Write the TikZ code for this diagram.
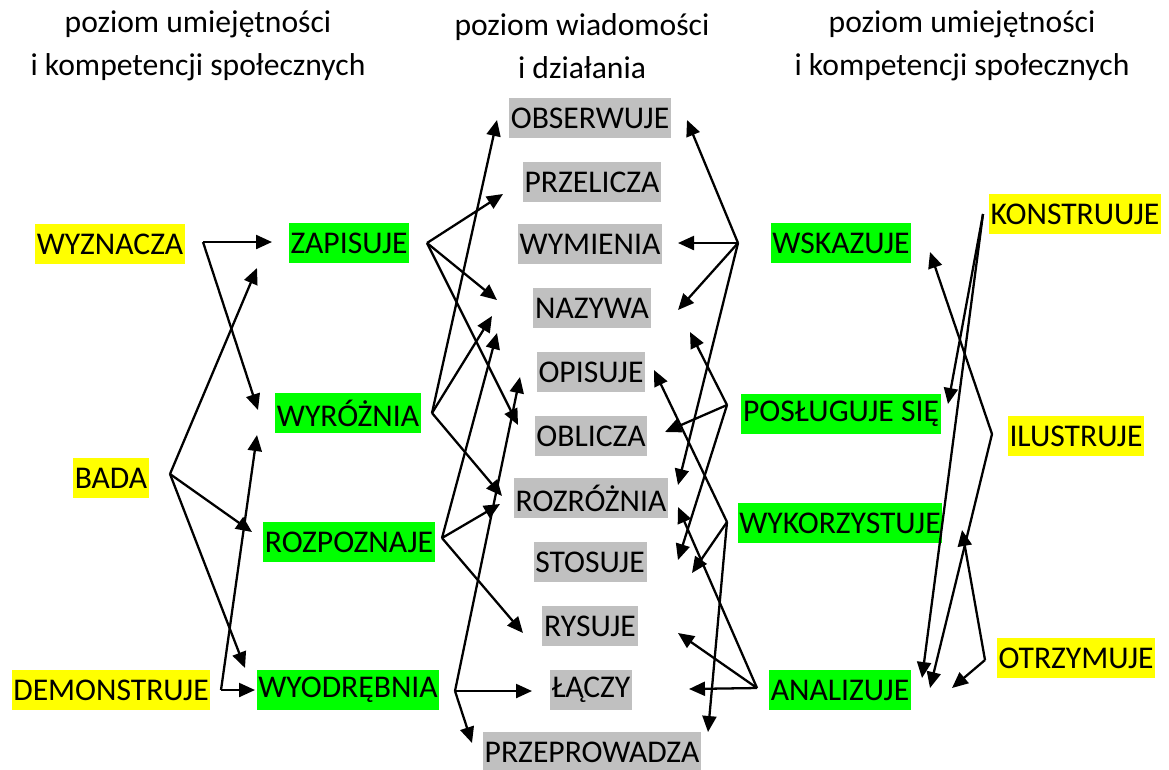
\documentclass[tikz,border=0pt]{standalone}
\usepackage{fontspec}
\setmainfont{Carlito}
\usepackage{tikz}
\usetikzlibrary{arrows.meta}
\definecolor{hlyellow}{HTML}{FFFF00}
\definecolor{hlgreen}{HTML}{00FF00}
\definecolor{hlgray}{HTML}{C0C0C0}

\begin{document}
\begin{tikzpicture}[
  x=0.02cm,y=-0.02cm,
  lbl/.style={inner xsep=1pt,inner ysep=0pt,minimum height=0.8cm,font=\fontsize{18}{22}\selectfont},
  skill/.style={lbl,fill=hlyellow},
  act/.style={lbl,fill=hlgreen},
  know/.style={lbl,fill=hlgray},
  head/.style={align=center,font=\fontsize{18}{24.5}\selectfont},
  arr/.style={-{Triangle[length=0.32cm,width=0.28cm]},line width=1.3pt}
]
\useasboundingbox (0,0) rectangle (1169,769);

\node[head] (hleft) at (198,46) {poziom umiejętności\\i kompetencji społecznych};
\node[head] (hmid) at (582,46) {poziom wiadomości\\i działania};
\node[head] (hright) at (962,46) {poziom umiejętności\\i kompetencji społecznych};

\node[skill] (wyz) at (110,244) {WYZNACZA};
\node[skill] (bada) at (111,478) {BADA};
\node[skill] (demo) at (111,690) {DEMONSTRUJE};

\node[act] (zap) at (349,243) {ZAPISUJE};
\node[act] (wyr) at (348,413) {WYRÓŻNIA};
\node[act] (rozp) at (349,542) {ROZPOZNAJE};
\node[act] (wyo) at (348,690) {WYODRĘBNIA};

\node[know] (obs) at (590,118) {OBSERWUJE};
\node[know] (prz) at (592,182) {PRZELICZA};
\node[know] (wym) at (590,244) {WYMIENIA};
\node[know] (naz) at (592,308) {NAZYWA};
\node[know] (opi) at (591,372) {OPISUJE};
\node[know] (obl) at (591,436) {OBLICZA};
\node[know] (rozr) at (591,498) {ROZRÓŻNIA};
\node[know] (sto) at (590,562) {STOSUJE};
\node[know] (rys) at (590,626) {RYSUJE};
\node[know] (lac) at (591,690) {ŁĄCZY};
\node[know] (pprz) at (592,752) {PRZEPROWADZA};

\node[act] (wsk) at (841,243) {WSKAZUJE};
\node[act] (pos) at (841,414) {POSŁUGUJE SIĘ};
\node[act] (wyk) at (840,523) {WYKORZYSTUJE};
\node[act] (ana) at (840,690) {ANALIZUJE};

\node[skill] (kon) at (1075,214) {KONSTRUUJE};
\node[skill] (ilu) at (1076,436) {ILUSTRUJE};
\node[skill] (otr) at (1076,658) {OTRZYMUJE};

\coordinate (wyz-j) at (203,242);
\coordinate (bada-j) at (170,474);
\coordinate (demo-j) at (221,690);
\coordinate (zap-j) at (427,243);
\coordinate (wyr-j) at (432,413);
\coordinate (rozp-j) at (442,538);
\coordinate (wyo-j) at (455,691);
\coordinate (wsk-j) at (738,243);
\coordinate (pos-j) at (727,405);
\coordinate (wyk-j) at (727,522);
\coordinate (ana-j) at (757,688);
\coordinate (kon-j) at (983,214);
\coordinate (ilu-j) at (992,434);
\coordinate (otr-j) at (985,660);

\draw[arr] (wyz-j) -- ([shift={(-77,-1)}]zap.center);
\draw[arr] (wyz-j) -- ([shift={(-90,-3)}]wyr.center);
\draw[arr] (bada-j) -- ([shift={(-92,25)}]zap.center);
\draw[arr] (bada-j) -- ([shift={(-97,-10)}]rozp.center);
\draw[arr] (bada-j) -- ([shift={(-103,-22)}]wyo.center);
\draw[arr] (demo-j) -- ([shift={(-93,0)}]wyo.center);
\draw[arr] (demo-j) -- ([shift={(-91,22)}]wyr.center);

\draw[arr] (zap-j) -- ([shift={(-89,12)}]prz.center);
\draw[arr] (zap-j) -- ([shift={(-95,-8)}]naz.center);
\draw[arr] (zap-j) -- ([shift={(-73,-11)}]obl.center);
\draw[arr] (wyr-j) -- ([shift={(-93,2)}]obs.center);
\draw[arr] (wyr-j) -- ([shift={(-100,8)}]naz.center);
\draw[arr] (wyr-j) -- ([shift={(-89,-2)}]rozr.center);
\draw[arr] (rozp-j) -- ([shift={(-95,25)}]naz.center);
\draw[arr] (rozp-j) -- ([shift={(-91,6)}]rozr.center);
\draw[arr] (rozp-j) -- ([shift={(-67,7)}]rys.center);
\draw[arr] (wyo-j) -- ([shift={(-71,5)}]opi.center);
\draw[arr] (wyo-j) -- ([shift={(-59,1)}]lac.center);
\draw[arr] (wyo-j) -- ([shift={(-120,-9)}]pprz.center);

\draw[arr] (wsk-j) -- ([shift={(97,2)}]obs.center);
\draw[arr] (wsk-j) -- ([shift={(88,-1)}]wym.center);
\draw[arr] (wsk-j) -- ([shift={(86,2)}]naz.center);
\draw[arr] (wsk-j) -- ([shift={(87,-13)}]rozr.center);
\draw[arr] (pos-j) -- ([shift={(98,24)}]naz.center);
\draw[arr] (pos-j) -- ([shift={(74,-4)}]obl.center);
\draw[arr] (pos-j) -- ([shift={(88,-2)}]sto.center);
\draw[arr] (wyk-j) -- ([shift={(63,-2)}]opi.center);
\draw[arr] (wyk-j) -- ([shift={(102,11)}]sto.center);
\draw[arr] (wyk-j) -- ([shift={(116,-20)}]pprz.center);
\draw[arr] (ana-j) -- ([shift={(87,9)}]rozr.center);
\draw[arr] (ana-j) -- ([shift={(88,7)}]rys.center);
\draw[arr] (ana-j) -- ([shift={(98,-1)}]lac.center);

\draw[arr] (kon-j) -- ([shift={(107,-10)}]pos.center);
\draw[arr] (kon-j) -- ([shift={(82,-12)}]ana.center);
\draw[arr] (ilu-j) -- ([shift={(89,9)}]wsk.center);
\draw[arr] (ilu-j) -- ([shift={(90,-2)}]ana.center);
\draw[arr] (otr-j) -- ([shift={(112,-2)}]ana.center);
\draw[arr] (otr-j) -- ([shift={(122,7)}]wyk.center);
\end{tikzpicture}
\end{document}
